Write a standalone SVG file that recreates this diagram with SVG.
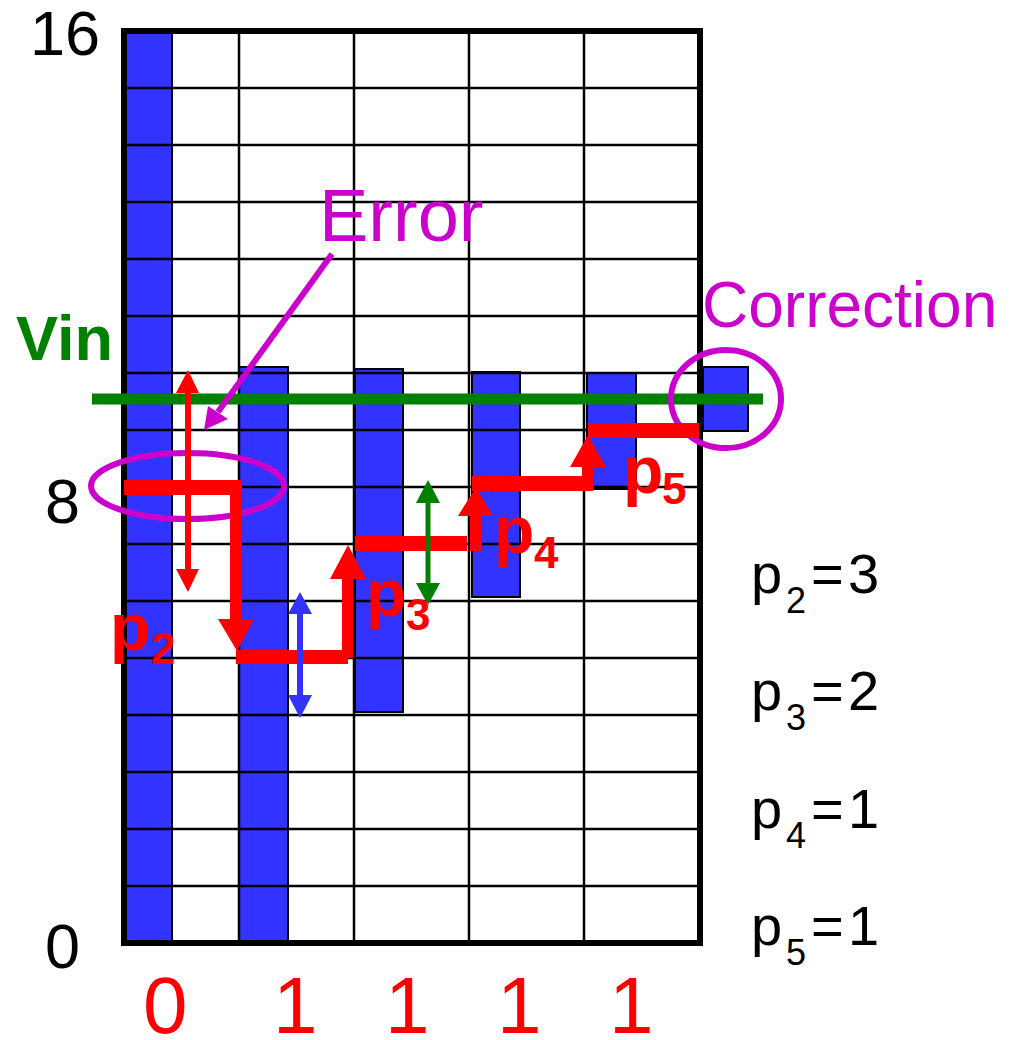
<svg xmlns="http://www.w3.org/2000/svg" width="1012" height="1040" viewBox="0 0 1012 1040">
<style>
text{font-family:"Liberation Sans",Arial,sans-serif}
.bar{fill:#3333FF;stroke:#000;stroke-width:2}
.grid{stroke:#000;stroke-width:2.5;fill:none}
.axis{font-size:63px;fill:#000}
.bit{font-size:80px;fill:#FF0000}
.res{font-size:56px;fill:#000}
.pr{font-size:66px;font-weight:bold;fill:#FF0000}
.red{fill:#FF0000}
.mag{fill:none;stroke:#CC00CC;stroke-width:6}
</style>
<rect width="1012" height="1040" fill="#fff"/>
<g id="bars">
<rect class="bar" x="126" y="31" width="46" height="911"/>
<rect class="bar" x="239" y="367" width="49" height="575"/>
<rect class="bar" x="355" y="369" width="48" height="343"/>
<rect class="bar" x="472" y="372" width="48" height="225"/>
<rect class="bar" x="587" y="373" width="49" height="116"/>
<rect class="bar" x="703" y="367" width="45" height="64"/>
</g>
<g id="grid" class="grid">
<path d="M239 31V943M354 31V943M469 31V943M584 31V943"/>
<path d="M124 88H700M124 145H700M124 202H700M124 259H700M124 316H700M124 373H700M124 430H700M124 487H700M124 544H700M124 601H700M124 658H700M124 715H700M124 772H700M124 829H700M124 886H700"/>
<rect x="124" y="31" width="576" height="912" stroke-width="6"/>
</g>
<g id="axis-labels">
<text class="axis" x="30" y="55">16</text>
<text class="axis" x="45" y="523">8</text>
<text class="axis" x="45" y="968">0</text>
</g>
<g id="vin">
<line x1="92" y1="399" x2="763" y2="399" stroke="#008000" stroke-width="11"/>
<text x="16" y="360" font-size="63" font-weight="bold" fill="#008000">Vin</text>
</g>
<g id="ellipses">
<ellipse class="mag" cx="187.5" cy="486" rx="96.5" ry="33"/>
<ellipse class="mag" cx="726" cy="399" rx="55" ry="49"/>
</g>
<g id="connectors">
<g id="staircase" class="red">
<rect x="124" y="480" width="112" height="15"/>
<rect x="230" y="480" width="12" height="140"/>
<polygon points="218,619 254,619 237,651"/>
<rect x="236" y="650" width="112" height="14"/>
<rect x="342" y="578" width="11" height="80"/>
<polygon points="330,579 366,579 348,545"/>
<rect x="355" y="536" width="112" height="15"/>
<rect x="470" y="514" width="12" height="37"/>
<polygon points="458,516 493,516 476,487"/>
<rect x="472" y="476" width="121" height="15"/>
<rect x="582" y="466" width="11" height="25"/>
<polygon points="570,467 606,467 588,435"/>
<rect x="588" y="423" width="111" height="15"/>
</g>
<g id="red-range">
<rect x="185" y="392" width="6" height="178" class="red"/>
<polygon class="red" points="176,393 199,393 188,370"/>
<polygon class="red" points="176,569 199,569 188,592"/>
</g>
<g id="blue-range" fill="#3333FF">
<rect x="297" y="613" width="6" height="83"/>
<polygon points="288,614 312,614 300,592"/>
<polygon points="288,695 312,695 300,718"/>
</g>
<g id="green-range" fill="#008000">
<rect x="425.5" y="502" width="5" height="82"/>
<polygon points="416,503 440,503 428,480"/>
<polygon points="416,583 440,583 428,605"/>
</g>
<g id="error-arrow">
<line x1="332" y1="254" x2="218" y2="412" stroke="#CC00CC" stroke-width="6"/>
<polygon points="204,430 208,406 228,419" fill="#CC00CC"/>
</g>
</g>
<g id="labels">
<text x="319" y="241" font-size="74" fill="#CC00CC">Error</text>
<text x="702" y="327" font-size="64" fill="#CC00CC">Correction</text>
<text class="pr" x="110" y="650">p<tspan x="151" y="664" font-size="44">2</tspan></text>
<text class="pr" x="366" y="616">p<tspan x="406" y="630" font-size="44">3</tspan></text>
<text class="pr" x="494" y="553">p<tspan x="534" y="568" font-size="44">4</tspan></text>
<text class="pr" x="623" y="493">p<tspan x="662" y="504" font-size="44">5</tspan></text>
</g>
<g id="bits">
<text class="bit" x="143" y="1033">0</text>
<text class="bit" x="273" y="1033">1</text>
<text class="bit" x="385" y="1033">1</text>
<text class="bit" x="497" y="1033">1</text>
<text class="bit" x="609" y="1033">1</text>
</g>
<g id="results">
<text class="res" x="751" y="593">p<tspan x="786" y="613" font-size="36">2</tspan><tspan x="811" y="593">=</tspan><tspan x="848" y="593">3</tspan></text>
<text class="res" x="751" y="710">p<tspan x="786" y="730" font-size="36">3</tspan><tspan x="811" y="710">=</tspan><tspan x="848" y="710">2</tspan></text>
<text class="res" x="751" y="828">p<tspan x="786" y="848" font-size="36">4</tspan><tspan x="811" y="828">=</tspan><tspan x="848" y="828">1</tspan></text>
<text class="res" x="751" y="945">p<tspan x="786" y="965" font-size="36">5</tspan><tspan x="811" y="945">=</tspan><tspan x="848" y="945">1</tspan></text>
</g>
</svg>
